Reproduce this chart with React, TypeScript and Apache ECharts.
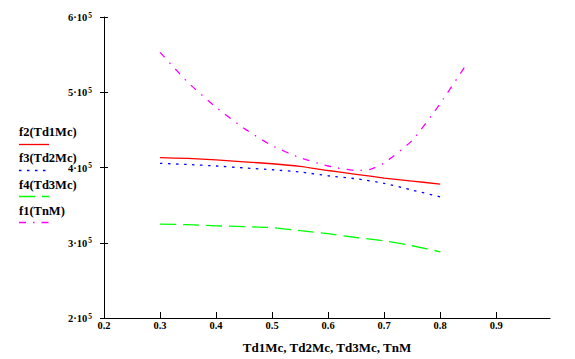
import React, { useEffect, useRef } from "react";
import * as echarts from "echarts";

const xTickValues = [0.2, 0.3, 0.4, 0.5, 0.6, 0.7, 0.8, 0.9];
const xMain = [0.3, 0.35, 0.4, 0.45, 0.5, 0.55, 0.6, 0.65, 0.7, 0.75, 0.8];
const f2Values = [413000, 412000, 410000, 407500, 405000, 401500, 396000, 391000, 386000, 382000, 378000];
const f3Values = [405500, 404000, 402000, 399500, 397000, 394000, 389000, 385000, 379000, 370000, 361000];
const f4Values = [324700, 324000, 322500, 321500, 320000, 316000, 312000, 307000, 302500, 296000, 288000];
const xF1 = [0.3, 0.35, 0.4, 0.45, 0.5, 0.55, 0.6, 0.65, 0.675, 0.7, 0.75, 0.8, 0.845];
const f1Values = [553000, 513000, 480000, 452000, 429000, 413000, 402000, 396000, 397500, 406000, 436000, 485000, 535000];
const legendNames = ["f2(Td1Mc)", "f3(Td2Mc)", "f4(Td3Mc)", "f1(TnM)"];
const xAxisName = "Td1Mc, Td2Mc, Td3Mc, TnM";

const FONT = "Liberation Serif";

const styles = [
  { color: "#ff0000", type: "solid" as any, width: 1.3 },
  { color: "#0000ff", type: [2.5, 5.5] as any, width: 1.3 },
  { color: "#00ff00", type: [16, 7] as any, width: 1.3 },
  { color: "#ff00ff", type: [7, 7, 1.5, 7] as any, width: 1.3 },
];

const zip = (xs: number[], ys: number[]) => xs.map((x, i) => [x, ys[i]]);

export default function App() {
  const ref = useRef<HTMLDivElement>(null);
  useEffect(() => {
    if (!ref.current) return;
    const chart = echarts.init(ref.current, undefined, { renderer: "svg" });
    const seriesData = [
      zip(xMain, f2Values),
      zip(xMain, f3Values),
      zip(xMain, f4Values),
      zip(xF1, f1Values),
    ];
    const legendGraphics: any[] = [];
    const legendTextY = [131, 157, 184.5, 210.5];
    const legendLineY = [144.5, 170.5, 196.5, 222.5];
    legendNames.forEach((n, i) => {
      legendGraphics.push({
        type: "text",
        left: 19,
        top: legendTextY[i] - 6,
        style: { text: n, fontFamily: FONT, fontWeight: "bold", fontSize: 12.5, lineHeight: 12, fill: "#000" },
      });
      const st = styles[i];
      legendGraphics.push({
        type: "line",
        shape: { x1: 19, y1: legendLineY[i], x2: 49, y2: legendLineY[i] },
        style: {
          stroke: st.color,
          lineWidth: st.width,
          lineDash: Array.isArray(st.type) ? st.type : null,
        },
      });
    });
    const yCommon = {
      type: "value" as const,
      min: 200000,
      max: 600000,
      interval: 100000,
      position: "left" as const,
      splitLine: { show: false },
    };
    chart.setOption({
      animation: false,
      backgroundColor: "#fff",
      textStyle: { fontFamily: FONT },
      grid: { left: 104, right: 25, top: 17, bottom: 35, containLabel: false },
      xAxis: {
        type: "value",
        min: 0.2,
        max: 0.996,
        interval: 0.1,
        name: xAxisName,
        nameLocation: "middle",
        nameGap: 23,
        nameTextStyle: { fontFamily: FONT, fontWeight: "bold", fontSize: 13, color: "#000" },
        axisLine: { show: true, onZero: false, lineStyle: { color: "#000", width: 1 } },
        axisTick: { show: true, inside: true, length: 6, lineStyle: { color: "#000" }, customValues: xTickValues },
        axisLabel: {
          margin: 2,
          fontFamily: FONT,
          fontWeight: "bold",
          fontSize: 10.5,
          color: "#000",
          customValues: xTickValues,
          formatter: (v: number) => v.toFixed(1),
        },
        splitLine: { show: false },
      },
      yAxis: [
        {
          ...yCommon,
          axisLine: { show: true, onZero: false, lineStyle: { color: "#000", width: 1 } },
          axisTick: { show: true, inside: false, length: 4, lineStyle: { color: "#000" } },
          axisLabel: {
            margin: 12,
            color: "#000",
            formatter: (v: number) => `{b|${Math.round(v / 100000)}·10}{s|5}`,
            rich: {
              b: { fontFamily: FONT, fontWeight: "bold", fontSize: 10.5, color: "#000", lineHeight: 12, verticalAlign: "bottom" },
              s: { fontFamily: FONT, fontWeight: "bold", fontSize: 7.5, color: "#000", lineHeight: 12, verticalAlign: "top", padding: [0, 0, 0, 1] },
            },
          },
        },
        {
          ...yCommon,
          axisLine: { show: false },
          axisTick: { show: true, inside: true, length: 4, lineStyle: { color: "#000" } },
          axisLabel: { show: false },
        },
      ],
      series: seriesData.map((d, i) => ({
        type: "line",
        name: legendNames[i],
        data: d,
        yAxisIndex: 0,
        showSymbol: false,
        smooth: 0.2,
        lineStyle: { color: styles[i].color, type: styles[i].type, width: styles[i].width },
        itemStyle: { color: styles[i].color },
      })),
      graphic: legendGraphics,
    });
    return () => chart.dispose();
  }, []);
  return (
    <div
      ref={ref}
      style={{ position: "fixed", left: 0, top: 0, width: 575, height: 359, background: "#fff" }}
    />
  );
}
